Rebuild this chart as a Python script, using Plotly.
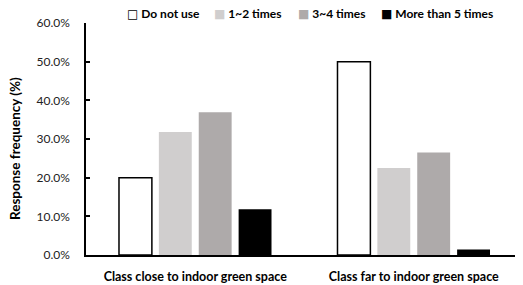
import plotly.graph_objects as go

categories = ["Class close to indoor green space", "Class far to indoor green space"]
series_names = ["Do not use", "1~2 times", "3~4 times", "More than 5 times"]
do_not_use = [20.0, 50.0]
times_1_2 = [31.8, 22.5]
times_3_4 = [36.9, 26.5]
more_than_5 = [11.8, 1.4]
y_ticks = [0, 10, 20, 30, 40, 50, 60]
y_tick_labels = ["0.0%", "10.0%", "20.0%", "30.0%", "40.0%", "50.0%", "60.0%"]

series_values = [do_not_use, times_1_2, times_3_4, more_than_5]
fills = ["#FFFFFF", "#D0CECE", "#AEAAAA", "#000000"]
lines = ["#000000", "#D0CECE", "#AEAAAA", "#000000"]
legend_glyphs = ["□", "■", "■", "■"]
legend_glyph_colors = ["#000000", "#D0CECE", "#AEAAAA", "#000000"]
legend_x = [0.090, 0.289, 0.481, 0.671]

FONT = "Lato"
# page has an 8px body margin: figure is shifted by 8px, so size/margins compensate
fig = go.Figure()
for name, vals, fc, lc in zip(series_names, series_values, fills, lines):
    fig.add_trace(go.Bar(
        x=categories, y=vals, name=name, showlegend=False,
        marker=dict(color=fc, line=dict(color=lc, width=1.5 if fc == "#FFFFFF" else 0)),
    ))

for name, g, gc, lx in zip(series_names, legend_glyphs, legend_glyph_colors, legend_x):
    fig.add_annotation(
        x=lx, y=1.043, xref="paper", yref="paper", xanchor="left", yanchor="middle",
        showarrow=False,
        text=f'<span style="color:{gc}; font-family:DejaVu Sans; font-weight:normal">{g}</span> {name}',
        font=dict(family=FONT, size=12, color="#000000", weight="bold"),
    )

fig.add_annotation(
    x=-0.1625, y=0.461, xref="paper", yref="paper", xanchor="center", yanchor="middle",
    showarrow=False, textangle=-90, text="Response frequency (%)",
    font=dict(family=FONT, size=13.5, color="#000000", weight="bold"),
)

fig.update_layout(
    width=515, height=277,
    margin=dict(l=78, r=0, t=15, b=30, pad=0, autoexpand=False),
    paper_bgcolor="white", plot_bgcolor="white",
    barmode="group", bargap=0.27, bargroupgap=0.175,
    font=dict(family=FONT, color="#222222"),
    showlegend=False,
    xaxis=dict(showline=True, linecolor="#000000", linewidth=1.5, ticks="",
               automargin=False,
               tickfont=dict(family=FONT, size=12.5, color="#000000", weight="bold"),
               ticklabelstandoff=9, range=[-0.5, 1.5]),
    yaxis=dict(range=[0, 60], tickvals=y_ticks, ticktext=y_tick_labels,
               automargin=False,
               showline=True, linecolor="#000000", linewidth=1.5,
               ticks="inside", ticklen=4, tickcolor="#000000", tickwidth=1.5,
               showgrid=False, zeroline=False,
               tickfont=dict(family=FONT, size=12, color="#222222"),
               ticklabelstandoff=12),
)

fig.write_html("out.html")
